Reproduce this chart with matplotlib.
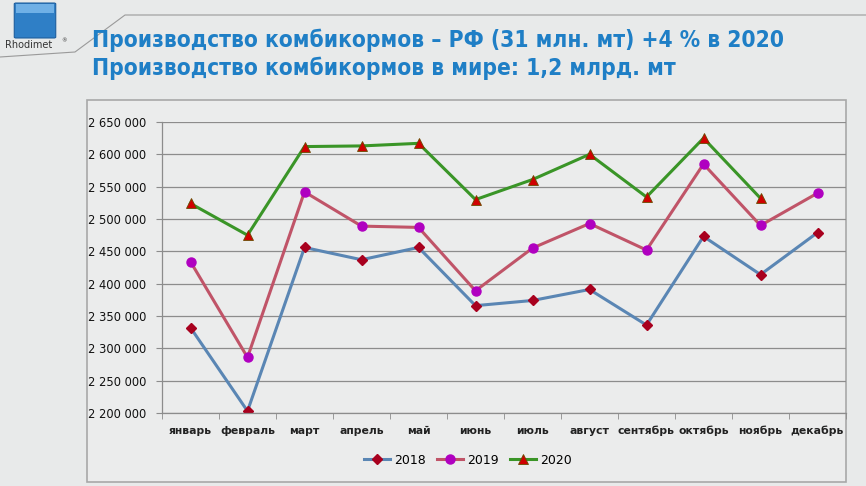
import matplotlib.pyplot as plt
from matplotlib.patches import Rectangle, FancyBboxPatch
from matplotlib.lines import Line2D
from matplotlib.ticker import FuncFormatter, FixedLocator

# Данные
months = ['январь', 'февраль', 'март', 'апрель', 'май', 'июнь', 'июль',
          'август', 'сентябрь', 'октябрь', 'ноябрь', 'декабрь']
v2018 = [2332000, 2203000, 2456000, 2437000, 2456000, 2366000, 2374000,
         2391000, 2336000, 2473000, 2414000, 2479000]
v2019 = [2434000, 2286000, 2542000, 2489000, 2487000, 2389000, 2455000,
         2493000, 2452000, 2585000, 2490000, 2540000]
v2020 = [2524000, 2475000, 2612000, 2613000, 2617000, 2530000, 2561000,
         2600000, 2534000, 2625000, 2532000]
title1 = 'Производство комбикормов – РФ (31 млн. мт) +4 % в 2020'
title2 = 'Производство комбикормов в мире: 1,2 млрд. мт'

bg = '#e8eaea'
fig = plt.figure(figsize=(8.66, 4.86), dpi=100, facecolor=bg)

# Шапка слайда: линия и логотип
fig.add_artist(Line2D([0, 75/866, 125/866, 1], [1-57/486, 1-52/486, 1-15/486, 1-15/486],
                      color='#9a9a9a', lw=0.8))
fig.add_artist(FancyBboxPatch((16/866, 1-37/486), 38/866, 33/486,
                              boxstyle='round,pad=0.002', fc='#2f7fc6', ec='#1d5e9e', lw=0.8))
fig.add_artist(Rectangle((16/866, 1-13/486), 38/866, 9/486, fc='#6fb0e6', ec='none'))
fig.text(5/866, 1-45/486, 'Rhodimet', fontsize=7, color='#333333', va='center')
fig.text(61/866, 1-41/486, '®', fontsize=4, color='#333333', va='center')

tfont = ['DejaVu Sans']
fig.text(92/866, 1-40/486, title1, fontsize=16.3, fontweight='bold', color='#1f7fc6',
         family=tfont, fontstretch='condensed', va='center')
fig.text(92/866, 1-68/486, title2, fontsize=16.3, fontweight='bold', color='#1f7fc6',
         family=tfont, fontstretch='condensed', va='center')

# Рамка диаграммы
fig.add_artist(Rectangle((87/866, 1-482/486), (846-87)/866, (482-100)/486,
                         fc='#ebecec', ec='#a8a8a8', lw=1.2, zorder=-1))

ax = fig.add_axes([162/866, 1-413/486, 684/866, 291/486])
ax.set_facecolor('none')
x = list(range(len(months)))

ax.plot(x, v2018, color='#5a86b4', lw=2.2, marker='D', ms=5,
        mfc='#a8001e', mec='#a8001e', label='2018')
ax.plot(x, v2019, color='#c05468', lw=2.2, marker='o', ms=6.5,
        mfc='#b000c0', mec='#b000c0', label='2019')
ax.plot(list(range(len(v2020))), v2020, color='#3a9527', lw=2.2, marker='^', ms=6.5,
        mfc='#d00000', mec='#6a4a00', mew=0.6, label='2020')

ax.set_xlim(-0.5, 11.5)
ax.set_ylim(2200000, 2650000)
ax.set_yticks(range(2200000, 2650001, 50000))
ax.yaxis.set_major_formatter(FuncFormatter(lambda v, p: f'{int(v):,}'.replace(',', ' ')))
ax.grid(axis='y', color='#8c8c8c', lw=0.9)
ax.set_axisbelow(True)

ax.set_xticks(x)
ax.set_xticklabels(months)
ax.xaxis.set_minor_locator(FixedLocator([i - 0.5 for i in range(13)]))
ax.tick_params(axis='x', which='major', length=0, pad=9, labelsize=7.8, labelcolor='#222222')
ax.tick_params(axis='x', which='minor', length=4, color='#8c8c8c')
ax.tick_params(axis='y', length=4, color='#8c8c8c', labelsize=8.3, labelcolor='#111111', pad=7.5)
for lbl in ax.get_xticklabels():
    lbl.set_fontweight('bold')

for s in ['top', 'right']:
    ax.spines[s].set_visible(False)
for s in ['left', 'bottom']:
    ax.spines[s].set_color('#8c8c8c')
    ax.spines[s].set_linewidth(0.9)

fig.legend(loc='center', bbox_to_anchor=(468/866, 1-460/486), ncol=3, frameon=False,
           fontsize=9, handlelength=2.1, columnspacing=0.9, handletextpad=0.3)

plt.savefig('out.png', dpi=100, facecolor=bg)
